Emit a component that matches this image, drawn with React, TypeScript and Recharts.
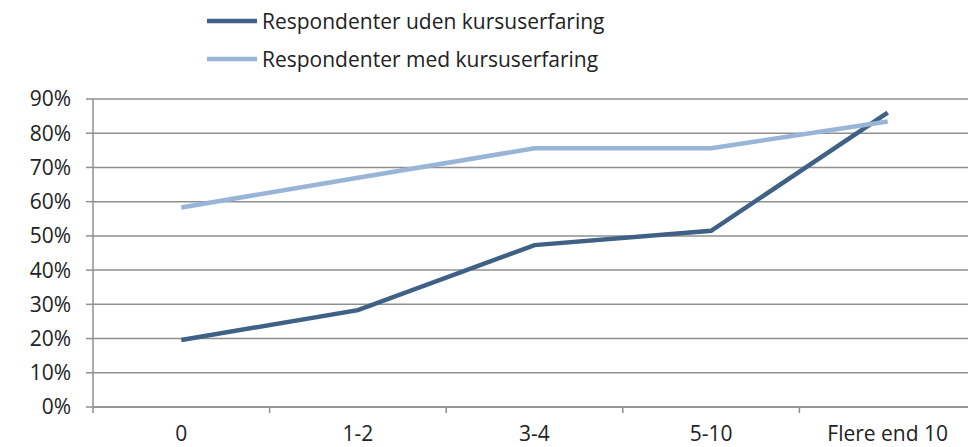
import { LineChart, Line, XAxis, YAxis, CartesianGrid, Legend } from 'recharts';

const categories = ['0', '1-2', '3-4', '5-10', 'Flere end 10'];
const utenKurs = [0.196, 0.283, 0.473, 0.515, 0.86];
const medKurs = [0.583, 0.67, 0.756, 0.756, 0.834];
const yTicks = [0, 0.1, 0.2, 0.3, 0.4, 0.5, 0.6, 0.7, 0.8, 0.9];

const seriesNames = ['Respondenter uden kursuserfaring', 'Respondenter med kursuserfaring'];
const DARK = '#3e6185';
const LIGHT = '#98b4d6';
const GRID = '#8f8f8f';
const FONT = '"Open Sans", sans-serif';

const data = categories.map((c, i) => ({
  cat: c,
  uden: utenKurs[i],
  med: medKurs[i],
}));

const W = 990;
const H = 447;
const LEFT = 93;
const RIGHT = 14;
const STEP = (W - LEFT - RIGHT) / categories.length;

const XTick = (props: any) => {
  const { x, y, payload, index } = props;
  const top = y - 6;
  return (
    <g>
      <line x1={x - STEP / 2} x2={x - STEP / 2} y1={top} y2={top + 6} stroke={GRID} strokeWidth={1.5} />
      {index === categories.length - 1 && (
        <line x1={x + STEP / 2} x2={x + STEP / 2} y1={top} y2={top + 6} stroke={GRID} strokeWidth={1.5} />
      )}
      <text x={x} y={top + 34} textAnchor="middle" fill="#222" fontSize={21} fontFamily={FONT}>
        {payload.value}
      </text>
    </g>
  );
};

const LegendBox = () => (
  <div style={{ fontFamily: FONT, fontSize: 21, color: '#222' }}>
    {seriesNames.map((n, i) => (
      <div key={n} style={{ display: 'flex', alignItems: 'center', height: 38 }}>
        <svg width={55} height={10}>
          <line x1={0} x2={50} y1={5} y2={5} stroke={i === 0 ? DARK : LIGHT} strokeWidth={4.5} />
        </svg>
        <span style={{ lineHeight: '38px' }}>{n}</span>
      </div>
    ))}
  </div>
);

export default function App() {
  return (
    <div style={{ position: 'absolute', left: 0, top: 0, width: 968, height: 447, overflow: 'hidden', background: '#fff' }}>
      <LineChart width={W} height={H} data={data} margin={{ top: 99, right: RIGHT, left: 0, bottom: 0 }}>
        <CartesianGrid vertical={false} stroke={GRID} strokeWidth={1.5} />
        <XAxis
          dataKey="cat"
          height={40}
          padding={{ left: STEP / 2, right: STEP / 2 }}
          axisLine={{ stroke: GRID, strokeWidth: 1.5 }}
          tickLine={false}
          tickSize={6}
          tickMargin={0}
          interval={0}
          tick={<XTick />}
        />
        <YAxis
          width={LEFT}
          domain={[0, 0.9]}
          ticks={yTicks}
          interval={0}
          tickFormatter={(v: number) => `${Math.round(v * 100)}%`}
          axisLine={{ stroke: GRID, strokeWidth: 1.5 }}
          tickLine={{ stroke: GRID, strokeWidth: 1.5 }}
          tickSize={7}
          tickMargin={15}
          tick={{ fill: '#222', fontSize: 21, fontFamily: FONT }}
        />
        <Legend
          layout="horizontal"
          verticalAlign="middle"
          align="center"
          content={<LegendBox />}
          wrapperStyle={{ top: 2, left: 207, width: 'auto' }}
        />
        <Line
          dataKey="uden"
          name={seriesNames[0]}
          stroke={DARK}
          strokeWidth={4.5}
          dot={false}
          activeDot={false}
          isAnimationActive={false}
        />
        <Line
          dataKey="med"
          name={seriesNames[1]}
          stroke={LIGHT}
          strokeWidth={4.5}
          dot={false}
          activeDot={false}
          isAnimationActive={false}
        />
      </LineChart>
    </div>
  );
}
